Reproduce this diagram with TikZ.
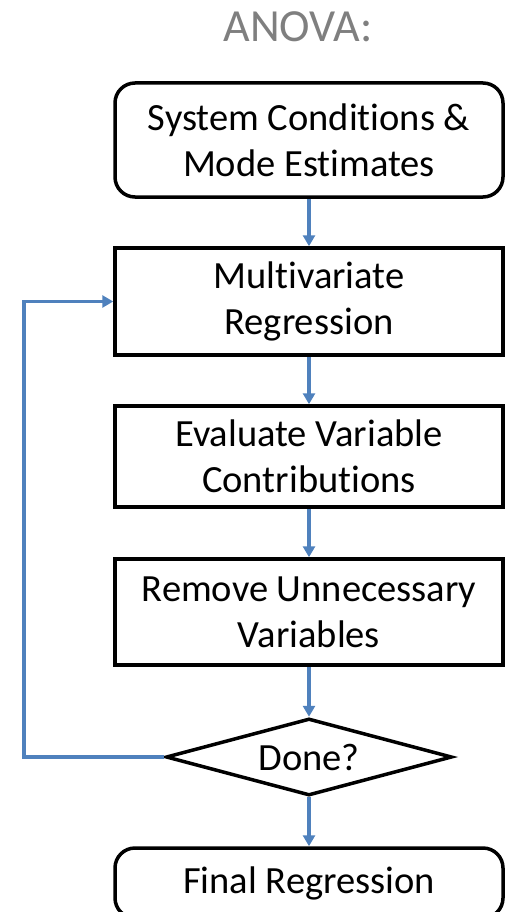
\documentclass[tikz,border=0pt]{standalone}
\usepackage{fontspec}
\setmainfont{Carlito}[Ligatures={NoCommon}]
\usetikzlibrary{shapes.geometric,arrows.meta}
\definecolor{arrblue}{HTML}{4F81BD}
\definecolor{titlegray}{HTML}{7F7F7F}
\tikzset{
  boxtext/.style={font=\fontsize{38.5}{46}\selectfont, align=center},
  procbox/.style={draw=black, line width=3.5pt, fill=white, minimum width=388pt, inner sep=0pt, boxtext},
  roundbox/.style={procbox, rounded corners=20pt},
  decide/.style={draw=black, line width=3.5pt, diamond, aspect=3.7, minimum width=286pt, minimum height=77pt, inner sep=0pt, boxtext},
  flow/.style={draw=arrblue, line width=3.2pt, -{Triangle[length=11pt,width=12pt]}}
}
\begin{document}
\begin{tikzpicture}[x=1pt,y=-1pt]
\useasboundingbox (0,0) rectangle (504,912);
\node[font=\fontsize{46}{50}\selectfont, text=titlegray, anchor=base] (title) at (298,42) {ANOVA:};
\node[roundbox, minimum height=114pt] (b1) at (309,140) {System Conditions \&\\Mode Estimates};
\node[procbox, minimum height=107pt] (b2) at (309,301.5) {Multivariate\\Regression};
\node[procbox, minimum height=101pt] (b3) at (309,456.5) {Evaluate Variable\\Contributions};
\node[procbox, minimum height=106pt] (b4) at (309,612) {Remove Unnecessary\\Variables};
\node[decide] (d) at (309,757) {Done?};
\node[roundbox, minimum height=70pt] (b5) at (309,883) {Final Regression};
\coordinate (fb) at (24,757);
\draw[flow] (b1.south) -- (b2.north);
\draw[flow] (b2.south) -- (b3.north);
\draw[flow] (b3.south) -- (b4.north);
\draw[flow] (b4.south) -- (d.north);
\draw[flow] (d.south) -- (b5.north);
\draw[flow] (d.west) -- (fb) |- (b2.west);
\end{tikzpicture}
\end{document}
